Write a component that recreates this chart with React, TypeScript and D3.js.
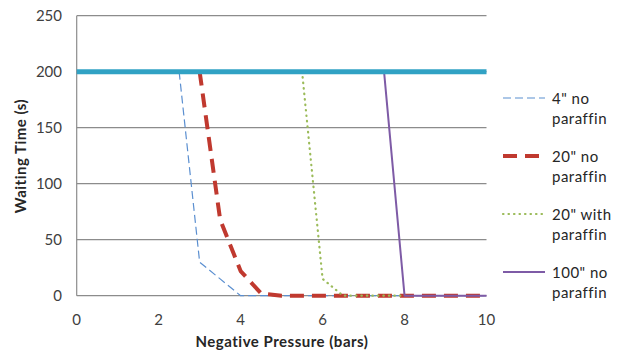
import React from "react";
import * as d3 from "d3";

const xTicks = [0, 2, 4, 6, 8, 10];
const yTicks = [0, 50, 100, 150, 200, 250];

const seriesNames = ['4" no paraffin', '20" no paraffin', '20" with paraffin', '100" no paraffin'];
const legendLines = [["4\" no", "paraffin"], ["20\" no", "paraffin"], ["20\" with", "paraffin"], ["100\" no", "paraffin"]];

const blueX = [2.5, 3, 3.5, 4, 4.5, 5, 5.5, 6, 6.5, 7, 7.5, 8, 8.5, 9, 9.5, 10];
const blueY = [200, 30, 15, 0, 0, 0, 0, 0, 0, 0, 0, 0, 0, 0, 0, 0];
const redX = [3, 3.5, 4, 4.5, 5, 5.5, 6, 6.5, 7, 7.5, 8, 8.5, 9, 9.5, 10];
const redY = [200, 68, 22, 2, 0, 0, 0, 0, 0, 0, 0, 0, 0, 0, 0];
const greenX = [5.5, 6, 6.5, 7, 7.5, 8];
const greenY = [200, 15, 0, 0, 0, 0];
const purpleX = [7.5, 8, 8.5, 9, 9.5, 10];
const purpleY = [200, 0, 0, 0, 0, 0];
const limitX = [0, 10];
const limitY = [200, 200];

const W = 621, H = 354;
const x = d3.scaleLinear().domain([0, 10]).range([76.7, 486.5]);
const y = d3.scaleLinear().domain([0, 250]).range([295.7, 15.7]);

const styles = [
  { color: "#5B8FD0", width: 1.2, dash: "8,4", cap: "butt" },
  { color: "#C0392F", width: 4, dash: "14,8", cap: "butt" },
  { color: "#9BBB59", width: 2.2, dash: "0.5,5", cap: "round" },
  { color: "#7E5BA6", width: 2, dash: null as string | null, cap: "butt" },
];

const FONT = "Lato, 'Open Sans', sans-serif";

export default function App() {
  const line = d3.line<[number, number]>().x((d) => x(d[0])).y((d) => y(d[1]));
  const data: [number[], number[]][] = [
    [blueX, blueY],
    [redX, redY],
    [greenX, greenY],
    [purpleX, purpleY],
  ];
  const legendY = [98, 156, 214, 272];
  return (
    <svg width={W} height={H} style={{ position: "absolute", left: 0, top: 0 }}>
      <rect width={W} height={H} fill="#fff" />
      {yTicks.map((t) => (
        <line key={"g" + t} x1={x(0)} x2={x(10)} y1={y(t)} y2={y(t)} stroke="#8C8C8C" strokeWidth={1.2} />
      ))}
      <line x1={x(0)} x2={x(0)} y1={y(0)} y2={y(250)} stroke="#8C8C8C" strokeWidth={1.2} />
      {yTicks.map((t) => (
        <text key={"yt" + t} x={62} y={y(t) + 5} textAnchor="end" fontSize={15} fontFamily={FONT} fill="#404040">
          {t}
        </text>
      ))}
      {xTicks.map((t) => (
        <text key={"xt" + t} x={x(t)} y={325} textAnchor="middle" fontSize={15} fontFamily={FONT} fill="#404040">
          {t}
        </text>
      ))}
      <text x={282} y={347} textAnchor="middle" fontSize={15} letterSpacing={0.5} fontWeight="bold" fontFamily={FONT} fill="#262626">
        Negative Pressure (bars)
      </text>
      <text
        transform={`translate(26,156) rotate(-90)`}
        textAnchor="middle"
        fontSize={15}
        letterSpacing={0.5}
        fontWeight="bold"
        fontFamily={FONT}
        fill="#262626"
      >
        Waiting Time (s)
      </text>
      {data.map(([xs, ys], i) => (
        <path
          key={"s" + i}
          d={line(xs.map((v, j) => [v, ys[j]] as [number, number])) || ""}
          fill="none"
          stroke={styles[i].color}
          strokeWidth={styles[i].width}
          strokeDasharray={styles[i].dash || undefined}
          strokeLinecap={styles[i].cap as any}
          strokeLinejoin="round"
        />
      ))}
      <path
        d={line(limitX.map((v, j) => [v, limitY[j]] as [number, number])) || ""}
        fill="none"
        stroke="#31A2C4"
        strokeWidth={5}
      />
      {seriesNames.map((name, i) => (
        <g key={"l" + i} aria-label={name}>
          <line
            x1={503}
            x2={545}
            y1={legendY[i]}
            y2={legendY[i]}
            stroke={styles[i].color}
            strokeWidth={styles[i].width}
            strokeDasharray={styles[i].dash || undefined}
            strokeLinecap={styles[i].cap as any}
          />
          {legendLines[i].map((s, k) => (
            <text key={k} x={552} y={legendY[i] + 6 + k * 20} fontSize={15} letterSpacing={0.5} fontFamily={FONT} fill="#262626">
              {s}
            </text>
          ))}
        </g>
      ))}
    </svg>
  );
}
